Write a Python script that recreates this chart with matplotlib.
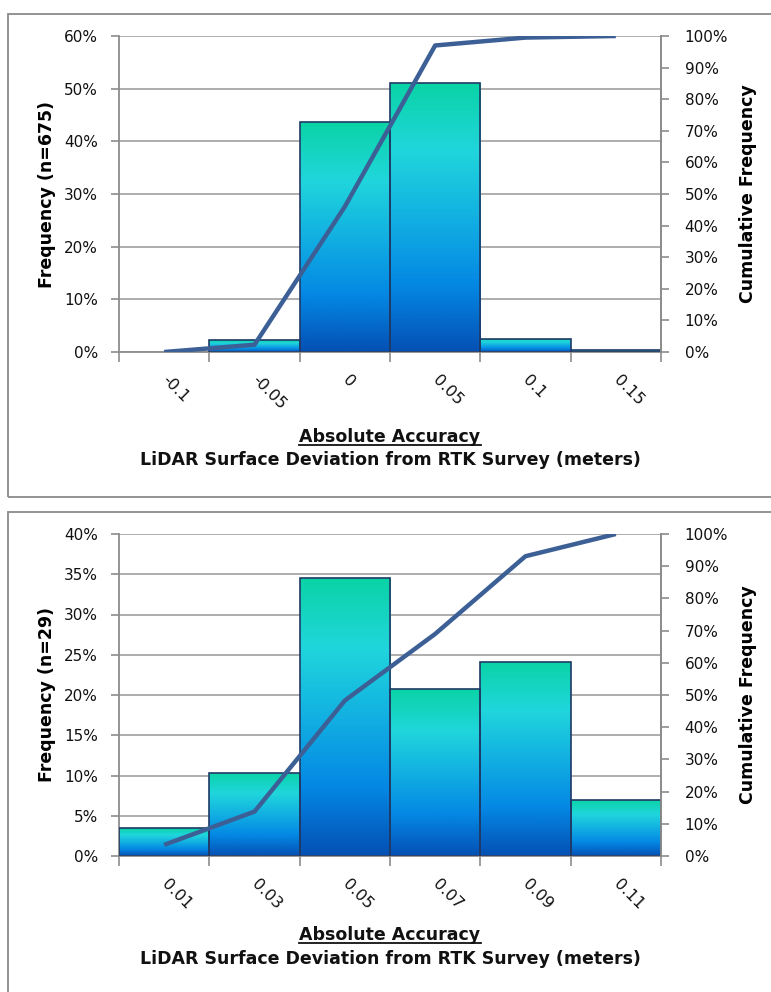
import matplotlib
matplotlib.use("Agg")
import matplotlib.pyplot as plt
import numpy as np
from matplotlib.colors import LinearSegmentedColormap
from matplotlib.patches import Rectangle
from matplotlib.lines import Line2D
from matplotlib.ticker import PercentFormatter, FixedLocator

# ---------------- data ----------------
top_categories = ["-0.1", "-0.05", "0", "0.05", "0.1", "0.15"]
top_freq = [0.0, 2.2, 43.6, 51.0, 2.5, 0.3]           # percent
top_cum = [0.0, 2.3, 46.0, 97.0, 99.5, 100.0]         # percent
top_ylabel = "Frequency (n=675)"

bot_categories = ["0.01", "0.03", "0.05", "0.07", "0.09", "0.11"]
bot_freq = [3.45, 10.34, 34.48, 20.69, 24.14, 6.90]   # percent
bot_cum = [3.45, 13.79, 48.28, 68.97, 93.10, 100.0]   # percent
bot_ylabel = "Frequency (n=29)"

right_label = "Cumulative Frequency"
xlabel_1 = "Absolute Accuracy"
xlabel_2 = "LiDAR Surface Deviation from RTK Survey (meters)"

# ---------------- style ----------------
W, H = 771, 992
DPI = 100
fig = plt.figure(figsize=(W / DPI, H / DPI), dpi=DPI)
plt.rcParams['font.family'] = ['DejaVu Sans']

grid_c = "#a0a0a0"
spine_c = "#8c8c8c"
edge_c = "#1f3a66"
line_c = "#3c6096"
grad = LinearSegmentedColormap.from_list(
    "g", [(0.0, "#0ad3a6"), (0.25, "#20d6dc"), (0.5, "#12b0e2"),
          (0.75, "#0488e4"), (1.0, "#0450b4")])


def px2fig(x0, y0, x1, y1):
    return [x0 / W, 1 - y1 / H, (x1 - x0) / W, (y1 - y0) / H]


def frame(x0, y0, x1, y1):
    r = Rectangle((x0 / W, 1 - y1 / H), (x1 - x0) / W, (y1 - y0) / H,
                  transform=fig.transFigure, fill=False, ec="#8a8a8a", lw=1.3)
    fig.patches.append(r)


frame(8, 14, 790, 497)
frame(8, 512, 790, 1010)


def panel(rect, cats, freq, cum, ymax, ystep, ylabel, lab_y1, lab_y2):
    ax = fig.add_axes(rect)
    n = len(cats)
    xs = np.arange(n)
    ax.set_xlim(-0.5, n - 0.5)
    ax.set_ylim(0, ymax)
    # gridlines
    ax.yaxis.grid(True, color=grid_c, lw=1.2, zorder=0)
    ax.set_axisbelow(True)
    # bars with gradient
    bars = ax.bar(xs, freq, width=1.0, facecolor="none", edgecolor=edge_c,
                  linewidth=1.2, zorder=3)
    g = np.linspace(0, 1, 256).reshape(-1, 1)
    for b in bars:
        x0 = b.get_x()
        h = b.get_height()
        if h <= 0:
            b.set_visible(False)
            continue
        im = ax.imshow(g, extent=[x0, x0 + b.get_width(), 0, h], aspect="auto",
                       cmap=grad, origin="upper", zorder=2, interpolation="bilinear")
        im.set_clip_path(b)
    ax.set_xlim(-0.5, n - 0.5)
    ax.set_ylim(0, ymax)
    ax.set_aspect("auto")
    # axes style
    ax.spines["top"].set_visible(False)
    for s in ["left", "bottom", "right"]:
        ax.spines[s].set_color(spine_c)
        ax.spines[s].set_linewidth(1.3)
    ax.set_yticks(np.arange(0, ymax + 0.01, ystep))
    ax.yaxis.set_major_formatter(PercentFormatter(decimals=0))
    ax.tick_params(axis="y", direction="out", length=6, width=1.2, color=spine_c,
                   labelsize=11, pad=9, labelcolor="#111111")
    # x ticks at bin edges, labels at centers
    ax.xaxis.set_major_locator(FixedLocator(np.arange(-0.5, n, 1.0)))
    ax.xaxis.set_major_formatter(plt.NullFormatter())
    ax.tick_params(axis="x", which="major", direction="out", length=7,
                   width=1.2, color=spine_c)
    ax.set_xticks(xs, minor=True)
    ax.set_xticklabels(cats, minor=True)
    ax.tick_params(axis="x", which="minor", length=0, pad=18.5, labelsize=11.5,
                   labelcolor="#111111")
    for t in ax.get_xticklabels(minor=True):
        t.set_rotation(-45)
        t.set_ha("left")
        t.set_va("center")
        t.set_rotation_mode("anchor")
    ax.set_ylabel(ylabel, fontsize=12.5, fontweight="bold", labelpad=6)

    # cumulative on secondary axis
    ax2 = ax.twinx()
    ax2.set_ylim(0, 100)
    ax2.set_xlim(-0.5, n - 0.5)
    ax2.plot(xs, cum, color=line_c, lw=3.2, solid_capstyle="butt",
             solid_joinstyle="round", zorder=5)
    ax2.set_yticks(np.arange(0, 101, 10))
    ax2.yaxis.set_major_formatter(PercentFormatter(decimals=0))
    for s in ["top", "left", "bottom"]:
        ax2.spines[s].set_visible(False)
    ax2.spines["right"].set_color(spine_c)
    ax2.spines["right"].set_linewidth(1.3)
    ax2.tick_params(axis="y", direction="out", length=6, width=1.2, color=spine_c,
                    labelsize=11, pad=11, labelcolor="#111111")
    ax2.set_ylabel(right_label, fontsize=12.5, fontweight="bold", labelpad=8)

    # x labels (two lines, first underlined)
    xc = (rect[0] + rect[2] / 2)
    t1 = fig.text(xc, 1 - lab_y1 / H, xlabel_1, ha="center", va="center",
                  fontsize=12.5, fontweight="bold", color="#111111")
    fig.text(xc, 1 - lab_y2 / H, xlabel_2, ha="center", va="center",
             fontsize=12.5, fontweight="bold", color="#111111")
    return ax, t1


axA, tA = panel(px2fig(119, 36, 661, 352), top_categories, top_freq, top_cum,
                60, 10, top_ylabel, 437, 460)
axB, tB = panel(px2fig(119, 534, 661, 856), bot_categories, bot_freq, bot_cum,
                40, 5, bot_ylabel, 935, 959)

fig.canvas.draw()
r = fig.canvas.get_renderer()
for t in (tA, tB):
    bb = t.get_window_extent(r)
    yline = bb.y0 + 1
    fig.lines.append(Line2D([bb.x0 / W, bb.x1 / W], [yline / H, yline / H],
                            transform=fig.transFigure, color="#111111", lw=1.3))

fig.savefig("out.png", dpi=DPI)
